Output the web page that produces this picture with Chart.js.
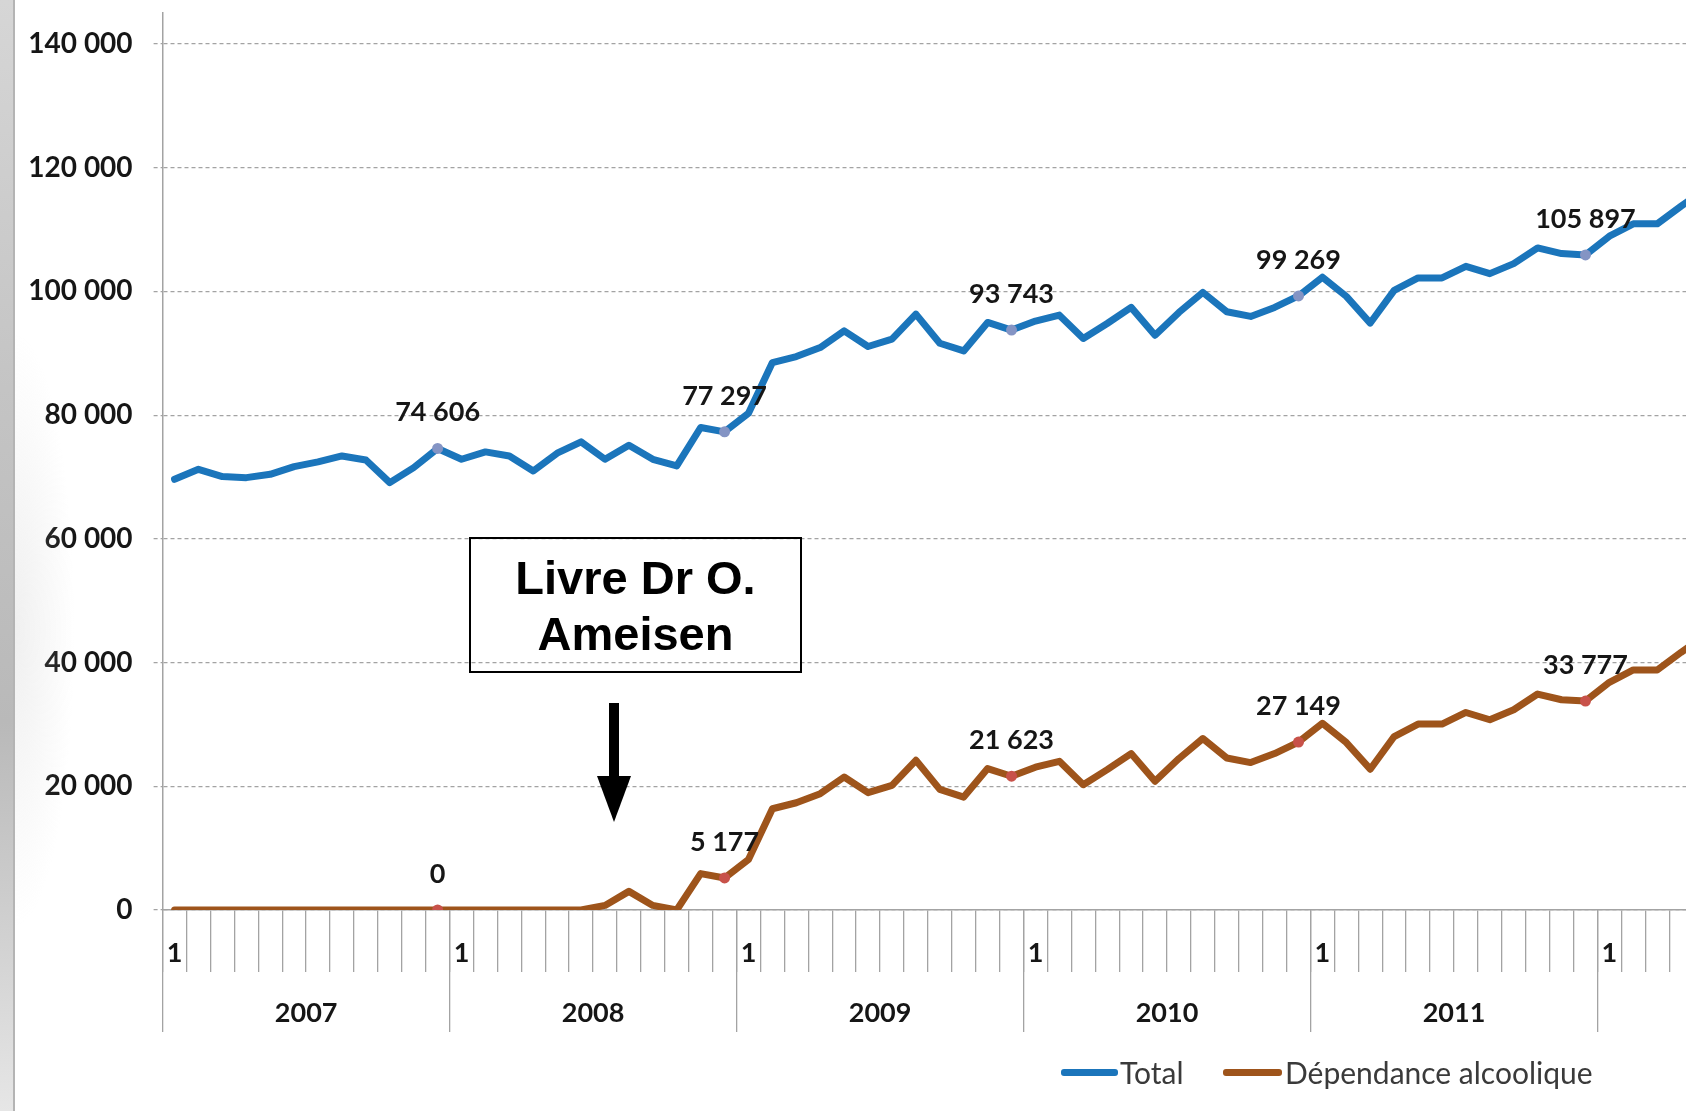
<!DOCTYPE html>
<html>
<head>
<meta charset="utf-8">
<script src="https://cdn.jsdelivr.net/npm/chart.js@4.4.0/dist/chart.umd.min.js"></script>
<style>
    html, body { margin: 0; padding: 0; overflow: hidden; background: #fff; }
    #wrap { position: relative; width: 1717px; height: 1111px; }
    #chartBox { position: absolute; left: 0; top: 0; width: 1717px; height: 1111px; }
    .side { position: absolute; left: 0; top: 0; width: 13px; height: 1111px;
        background: linear-gradient(180deg, #d6d6d6 0%, #c4c4c4 35%, #b9b9b9 65%, #d2d2d2 85%, #e6e6e6 100%); }
    .sideLine { position: absolute; left: 13px; top: 0; width: 2px; height: 1111px; background: #b4b4b4; }
    .haze { position: absolute; left: 15px; top: 330px; width: 60px; height: 600px;
        background: radial-gradient(ellipse at 0% 50%, rgba(200,200,200,0.28) 0%, rgba(255,255,255,0) 70%); }
    .note { position: absolute; left: 469px; top: 537px; width: 333px; height: 136px; box-sizing: border-box;
        border: 2px solid #000; padding-top: 11px; text-align: center;
        font: bold 47px "Liberation Sans", Arial, sans-serif; line-height: 56px; color: #000; }
    .legend { position: absolute; top: 1052px; height: 40px; font: 30px Lato, sans-serif; color: #3a3a3a; line-height: 40px; }
    .swatch { position: absolute; top: 1069px; height: 7px; border-radius: 3px; }
</style>
</head>
<body>
<div id="wrap">
    <div id="chartBox"><canvas id="chart"></canvas></div>
    <div class="side"></div>
    <div class="sideLine"></div>
    <div class="haze"></div>
    <div class="note">Livre Dr O.<br>Ameisen</div>
    <svg style="position:absolute;left:0;top:0" width="1686" height="1111">
        <rect x="609" y="703" width="10" height="76" fill="#000"/>
        <polygon points="597,776 631,776 614,822" fill="#000"/>
    </svg>
    <div class="swatch" style="left:1061px;width:57px;background:#1b75bb"></div>
    <div class="legend" style="left:1120px">Total</div>
    <div class="swatch" style="left:1223px;width:59px;background:#9e541b"></div>
    <div class="legend" style="left:1285px">Dépendance alcoolique</div>
</div>

<script>
// years shown on the axis, 12 months each (2012 is cut off at the right)
const years = ['2007', '2008', '2009', '2010', '2011', '2012'];

const totalVals = [
    69620, 71240, 70060, 69890, 70430, 71680, 72430, 73400, 72750, 69080, 71510, 74606,
    72860, 74050, 73400, 70970, 73840, 75670, 72860, 75130, 72860, 71780, 78000, 77297,
    80300, 88490, 89460, 90920, 93620, 91090, 92270, 96320, 91620, 90370, 94980, 93743,
    95200, 96160, 92380, 94810, 97410, 92920, 96600, 99840, 96700, 95950, 97410, 99269,
    102300, 99190, 94880, 100160, 102170, 102170, 104050, 102870, 104490, 107030, 106110, 105897,
    108920, 110920, 110920, 113780, 116500
];

const alcoolVals = [
    0, 0, 0, 0, 0, 0, 0, 0, 0, 0, 0, 0,
    0, 0, 0, 0, 0, 0, 740, 3010, 740, 0, 5880, 5177,
    8180, 16370, 17340, 18800, 21500, 18970, 20150, 24200, 19500, 18250, 22860, 21623,
    23080, 24040, 20260, 22690, 25290, 20800, 24480, 27720, 24580, 23830, 25290, 27149,
    30180, 27070, 22760, 28040, 30050, 30050, 31930, 30750, 32370, 34910, 33990, 33777,
    36800, 38800, 38800, 41660, 44380
];

// December of each year carries a value label
const labelIdx = [11, 23, 35, 47, 59];

const yTicks = [0, 20000, 40000, 60000, 80000, 100000, 120000, 140000];

const months = totalVals.map((v, i) => years[Math.floor(i / 12)] + '-' + (i % 12 + 1));

const BLUE = '#1b75bb';
const BROWN = '#9e541b';
const GREY = '#a3a3a3';
const TEXT = '#161616';

function fmt(v) {
    return String(v).replace(/\B(?=(\d{3})+(?!\d))/g, ' ');
}

function markerRadius() {
    return totalVals.map((v, i) => labelIdx.includes(i) ? 5.5 : 0);
}

const pointLabels = {
    id: 'pointLabels',
    afterDatasetsDraw(chart) {
        const ctx = chart.ctx;
        ctx.save();
        ctx.font = 'bold 27px Lato';
        ctx.fillStyle = TEXT;
        ctx.textAlign = 'center';
        ctx.textBaseline = 'middle';
        chart.data.datasets.forEach((ds, di) => {
            const meta = chart.getDatasetMeta(di);
            labelIdx.forEach(i => {
                const pt = meta.data[i];
                ctx.fillText(fmt(ds.data[i]), pt.x, pt.y - 36);
            });
        });
        ctx.restore();
    }
};

// the axis boxes below the plot are squeezed to share the same top line,
// so label clipping to the box has to be switched off
function noLabelClip(s) {
    s._computeLabelArea = () => undefined;
}

new Chart(document.getElementById('chart'), {
    type: 'line',
    data: {
        labels: months,
        datasets: [{
            label: 'Total',
            data: totalVals,
            borderColor: BLUE,
            borderWidth: 7,
            pointRadius: markerRadius(),
            pointBackgroundColor: '#8494c4',
            pointBorderWidth: 0,
            borderJoinStyle: 'round',
            borderCapStyle: 'round',
            tension: 0
        }, {
            label: 'Dépendance alcoolique',
            data: alcoolVals,
            borderColor: BROWN,
            borderWidth: 7,
            pointRadius: markerRadius(),
            pointBackgroundColor: '#c8524a',
            pointBorderWidth: 0,
            borderJoinStyle: 'round',
            borderCapStyle: 'round',
            tension: 0
        }]
    },
    options: {
        responsive: true,
        maintainAspectRatio: false,
        animation: false,
        layout: { padding: { top: 13, left: 0, right: 0, bottom: 0 } },
        plugins: {
            legend: { display: false },
            tooltip: { enabled: false }
        },
        scales: {
            x: {
                type: 'category',
                weight: 0,
                offset: true,
                grid: {
                    offset: true,
                    drawOnChartArea: false,
                    tickLength: 62,
                    color: GREY,
                    lineWidth: 1.3
                },
                border: { display: true, color: GREY, width: 1.5 },
                ticks: {
                    autoSkip: false,
                    maxRotation: 0,
                    minRotation: 0,
                    padding: -35,
                    color: TEXT,
                    font: { family: 'Lato', size: 27, weight: 'bold' },
                    callback: (v, i) => i % 12 === 0 ? '1' : ''
                },
                afterFit: s => { s.height = 0; s.paddingLeft = 0; s.paddingRight = 0; noLabelClip(s); }
            },
            x2: {
                type: 'category',
                position: 'bottom',
                weight: 1,
                offset: true,
                grid: {
                    offset: true,
                    drawOnChartArea: false,
                    tickLength: 122,
                    lineWidth: 1.3,
                    color: c => c.index % 12 === 0 ? GREY : 'rgba(0,0,0,0)'
                },
                border: { display: false },
                ticks: {
                    autoSkip: false,
                    maxRotation: 0,
                    minRotation: 0,
                    padding: -35,
                    labelOffset: 12,
                    color: TEXT,
                    font: { family: 'Lato', size: 27, weight: 'bold' },
                    callback: (v, i) => i % 12 === 5 ? years[Math.floor(i / 12)] : ''
                },
                afterFit: s => { s.height = 201; s.paddingLeft = 0; s.paddingRight = 0; noLabelClip(s); }
            },
            y: {
                min: 0,
                max: 145000,
                grid: {
                    color: GREY,
                    lineWidth: 1.2,
                    tickLength: 9,
                    tickBorderDash: [4, 3]
                },
                border: { display: true, color: GREY, width: 1.5, dash: [4, 3] },
                ticks: {
                    stepSize: 20000,
                    padding: 21,
                    color: TEXT,
                    font: { family: 'Lato', size: 28, weight: 'bold' },
                    callback: v => fmt(v)
                },
                afterBuildTicks: s => { s.ticks = yTicks.map(v => ({ value: v })); },
                afterFit: s => { s.width = 162.6; s.paddingTop = 0; s.paddingBottom = 0; }
            }
        }
    },
    plugins: [pointLabels]
});
</script>
</body>
</html>
